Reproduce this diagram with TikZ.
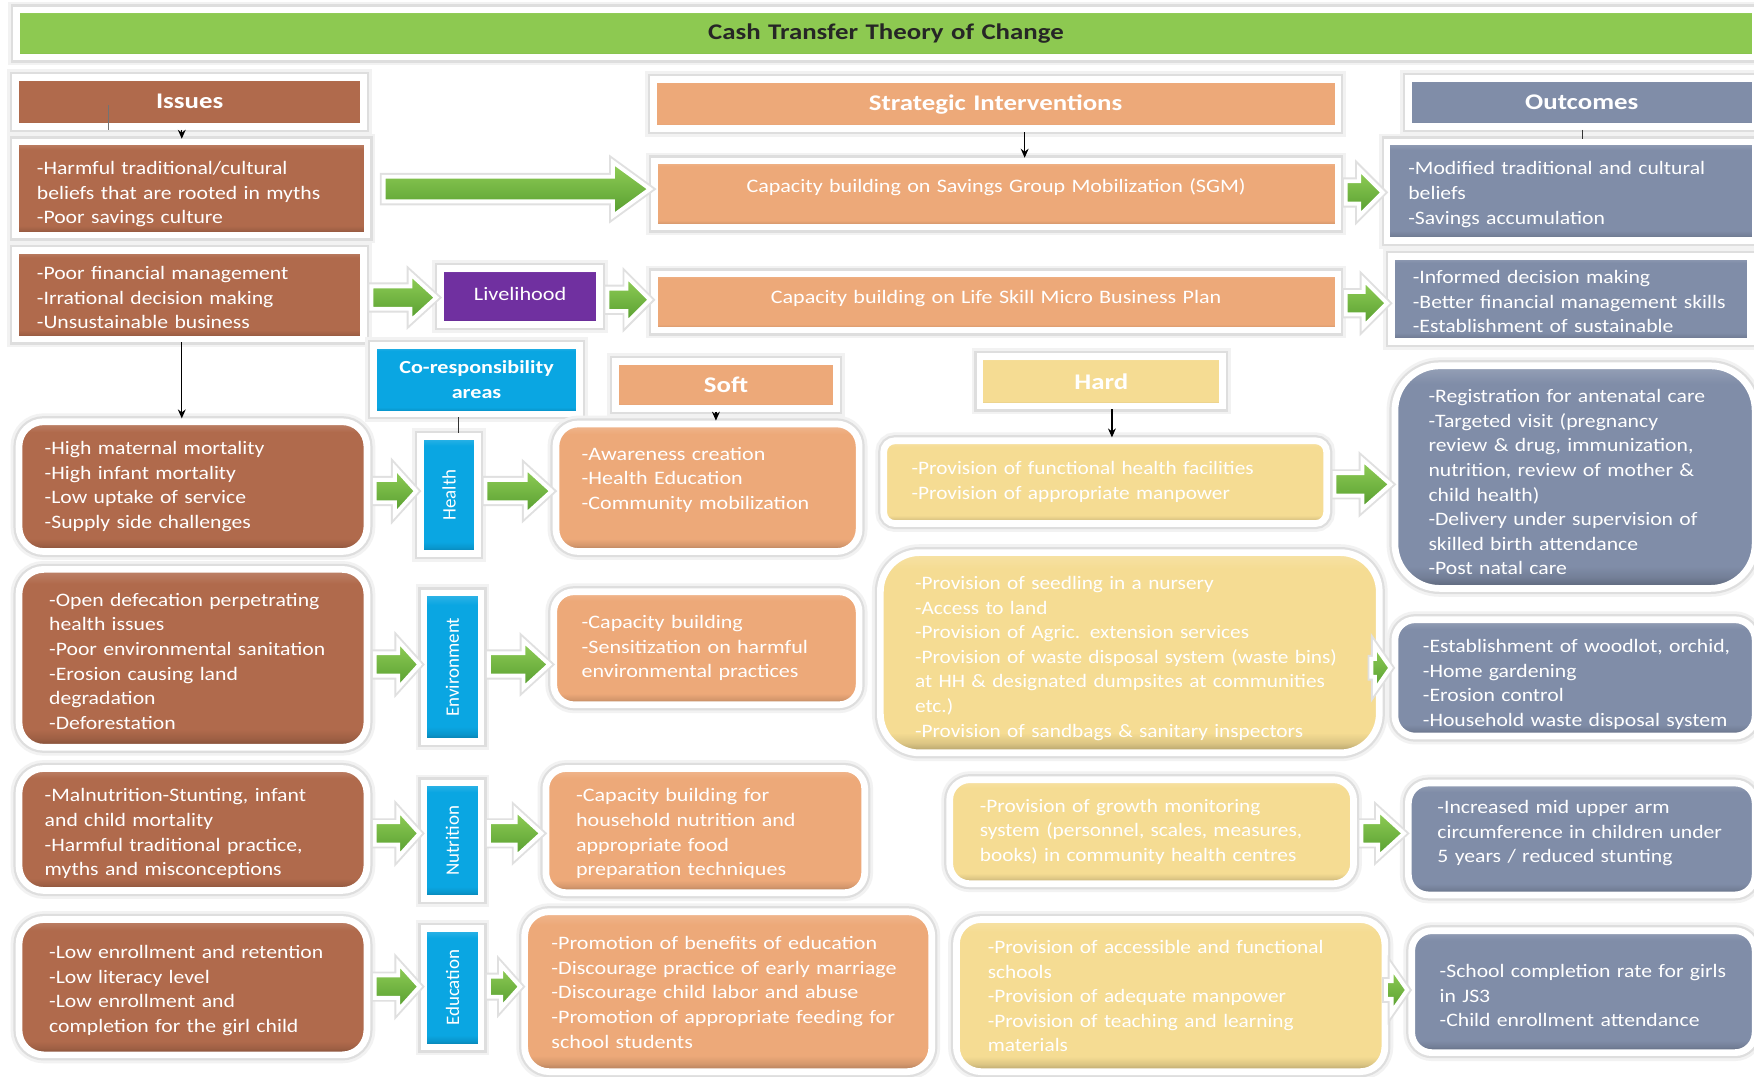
\documentclass[tikz,border=0pt]{standalone}
\usepackage{fontspec}
\setmainfont{Carlito}
\newfontfamily\fIss{Carlito}[FakeStretch=1.14]
\newfontfamily\fSoft{Carlito}[FakeStretch=1.16]
\newfontfamily\fHard{Carlito}[FakeStretch=1.12]
\newfontfamily\fOut{Carlito}[FakeStretch=1.14]
\newfontfamily\fHead{Carlito}[FakeStretch=1.2]
\newfontfamily\fLiv{Carlito}[FakeStretch=1.17]
\usetikzlibrary{calc,arrows.meta}

\definecolor{gbar}{HTML}{8DC951}
\definecolor{brn}{HTML}{B06A4C}
\definecolor{org}{HTML}{EDA979}
\definecolor{slt}{HTML}{808DA8}
\definecolor{ylw}{HTML}{F5DC93}
\definecolor{pur}{HTML}{7030A0}
\definecolor{cyn}{HTML}{0AA6E2}
\definecolor{garL}{HTML}{92CF58}
\definecolor{garD}{HTML}{559C2E}

% flat fill with a light top rim and a dark bevel at the bottom
\newcommand\mkbevel[2]{%
  \pgfdeclareverticalshading{bevel#1}{100bp}{%
    color(0bp)=(#2!70!black); color(25bp)=(#2!70!black);
    color(27.5bp)=(#2!90!black); color(30bp)=(#2); color(71bp)=(#2);
    color(75bp)=(#2!82!white); color(100bp)=(#2!82!white)}}
\mkbevel{gbar}{gbar}
\mkbevel{brn}{brn}
\mkbevel{org}{org}
\mkbevel{slt}{slt}
\mkbevel{ylw}{ylw}
\mkbevel{pur}{pur}
\mkbevel{cyn}{cyn}

% a block of lines that never re-wraps
\newcommand\lines[1]{\begin{tabular}{@{}l@{}}#1\end{tabular}}
% move a block up or down without changing its size
\newcommand\nudge[2]{\raisebox{#1}[\height][\depth]{#2}}

% box from its corner coordinates: [text padding]{name}{style}{x1}{y1}{x2}{y2}{text}
\newcommand\bx[8][16]{%
  \pgfmathsetmacro\bxX{(#4+#6)/2}%
  \pgfmathsetmacro\bxY{(#5+#7)/2}%
  \pgfmathsetmacro\bxW{#6-#4+6}%
  \pgfmathsetmacro\bxH{#7-#5+6}%
  \pgfmathsetmacro\bxT{#6-#4-2*#1}%
  \pgfmathsetmacro\bxS{#1+3}%
  \node[#3, minimum width=\bxW pt, minimum height=\bxH pt, text width=\bxT pt,
        inner xsep=\bxS pt, inner ysep=0pt] (#2) at (\bxX,\bxY) {#8};%
}

% green block arrow between two nodes:
% [start offset]{from}{to}{y}{head length}{half head}{half shaft}
\newcommand\garr[7][4]{%
  \path[garrow] let \p1=(#2.east), \p2=(#3.west), \p3=(0,#4) in
    (\x1+#1pt,\y3+#7pt) -- (\x2-#5pt,\y3+#7pt) -- (\x2-#5pt,\y3+#6pt) --
    (\x2-1pt,\y3) -- (\x2-#5pt,\y3-#6pt) -- (\x2-#5pt,\y3-#7pt) --
    (\x1+#1pt,\y3-#7pt) -- cycle;%
}

\tikzset{
  card/.style={rectangle, draw=white, line width=6pt,
    preaction={draw=black!5, line width=15pt},
    preaction={draw=black!13, line width=10pt}},
  paint/.style={shading=bevel#1},
  body/.style={card, text=white, align=left},
  iss/.style={body, paint=brn, font=\fIss\fontsize{17}{22}\selectfont},
  soft/.style={body, paint=org, font=\fSoft\fontsize{17}{22}\selectfont},
  hard/.style={body, paint=ylw, font=\fHard\fontsize{17}{22}\selectfont},
  outc/.style={body, paint=slt, font=\fOut\fontsize{17}{22}\selectfont},
  hdr/.style={card, paint=#1, text=white, align=center,
    font=\fHead\bfseries\fontsize{20}{24}\selectfont},
  titlebar/.style={card, paint=gbar, text=black!85, align=center,
    font=\fHead\bfseries\fontsize{20}{24}\selectfont},
  wide/.style={card, paint=org, text=white, align=center,
    font=\fSoft\fontsize{17}{22}\selectfont},
  area/.style={card, paint=cyn, text=white, align=center,
    font=\fHead\bfseries\fontsize{16.5}{22}\selectfont},
  vbox/.style={card, paint=cyn, text=white, align=center,
    font=\fontsize{17}{20}\selectfont},
  liv/.style={card, paint=pur, text=white, align=center,
    font=\fLiv\fontsize{17}{22}\selectfont},
  garrow/.style={draw=white, line width=3.5pt, line join=miter,
    top color=garL, bottom color=garD,
    preaction={draw=black!12, line width=7pt}},
  blk/.style={-{Stealth[length=8pt,width=7pt]}, line width=1.1pt, black},
  tick/.style={line width=1.1pt, black!80},
}

\begin{document}
\begin{tikzpicture}[x=1pt,y=-1pt]
\useasboundingbox (0,0) rectangle (1568,962);
\fill[white] (0,0) rectangle (1568,962);

% title and column headers
\bx[10]{title}{titlebar}{18}{12}{1566}{48}{Cash Transfer Theory of Change}
\bx[10]{issues}{hdr=brn}{17}{72}{322}{110}{Issues}
\bx[10]{strat}{hdr=org}{587}{74}{1193}{112}{Strategic Interventions}
\bx[10]{outh}{hdr=slt}{1262}{73}{1566}{110}{Outcomes}

% savings row
\bx[16]{i1}{iss}{17}{130}{325}{207}{\nudge{-5pt}{\lines{-Harmful traditional/cultural\\beliefs that are rooted in myths\\-Poor savings culture}}}
\bx[10]{sgm}{wide}{588}{147}{1193}{200}{\nudge{6pt}{Capacity building on Savings Group Mobilization (SGM)}}
\bx[16]{o1}{outc}{1243}{130}{1566}{212}{\nudge{-3pt}{\lines{-Modified traditional and cultural\\beliefs\\-Savings accumulation}}}

% livelihood row
\bx[16]{i2}{iss}{17}{227}{322}{300}{\nudge{-4pt}{\lines{-Poor financial management\\-Irrational decision making\\-Unsustainable business}}}
\bx[6]{livh}{liv}{397}{243}{533}{287}{\nudge{2pt}{Livelihood}}
\bx[10]{lsk}{wide}{588}{248}{1193}{292}{\nudge{3pt}{Capacity building on Life Skill Micro Business Plan}}
\bx[16]{o2}{outc}{1247}{232}{1562}{302}{\nudge{-4pt}{\lines{-Informed decision making\\-Better financial management skills\\-Establishment of sustainable}}}

% second level headers
\bx[8]{cra}{area}{337}{312}{515}{367}{Co-responsibility\\areas}
\bx[10]{softh}{hdr=org}{553}{326}{745}{362}{Soft}
\bx[10]{hardh}{hdr=ylw}{879}{322}{1090}{360}{Hard}

% health row
\bx[20]{i3}{iss, rounded corners=22pt}{20}{380}{325}{490}{\lines{-High maternal mortality\\-High infant mortality\\-Low uptake of service\\-Supply side challenges}}
\bx[5]{hlt}{vbox}{379}{393}{424}{492}{\rotatebox{90}{Health}}
\bx[20]{s1}{soft, rounded corners=20pt}{500}{382}{765}{490}{\nudge{7pt}{\lines{-Awareness creation\\-Health Education\\-Community mobilization}}}
\bx[22]{hd1}{hard, rounded corners=10pt}{793}{397}{1183}{465}{\lines{-Provision of functional health facilities\\-Provision of appropriate manpower}}
\bx[27]{o3}{outc, rounded corners=40pt}{1250}{330}{1566}{523}{\nudge{-6pt}{\lines{-Registration for antenatal care\\-Targeted visit (pregnancy\\review \& drug, immunization,\\nutrition, review of mother \&\\child health)\\-Delivery under supervision of\\skilled birth attendance\\-Post natal care}}}

% environment row
\bx[24]{i4}{iss, rounded corners=22pt}{20}{512}{325}{665}{\nudge{-4pt}{\lines{-Open defecation perpetrating\\health issues\\-Poor environmental sanitation\\-Erosion causing land\\degradation\\-Deforestation}}}
\bx[5]{env}{vbox}{382}{533}{427}{660}{\rotatebox{90}{Environment}}
\bx[22]{s2}{soft, rounded corners=18pt}{498}{532}{765}{627}{\lines{-Capacity building\\-Sensitization on harmful\\environmental practices}}
\bx[28]{hd2}{hard, rounded corners=35pt}{790}{497}{1230}{670}{\nudge{-5pt}{\lines{-Provision of seedling in a nursery\\-Access to land\\-Provision of Agric. extension services\\-Provision of waste  disposal system (waste bins)\\at HH \& designated dumpsites at communities\\etc.)\\-Provision of sandbags \& sanitary  inspectors}}}
\bx[22]{o4}{outc, rounded corners=18pt}{1250}{557}{1566}{655}{\nudge{-6pt}{\lines{-Establishment of woodlot, orchid,\\-Home gardening\\-Erosion control\\-Household waste disposal system}}}

% nutrition row
\bx[20]{i5}{iss, rounded corners=22pt}{20}{690}{325}{793}{\nudge{-4pt}{\lines{-Malnutrition-Stunting, infant\\and child mortality\\-Harmful traditional practice,\\myths and misconceptions}}}
\bx[5]{nut}{vbox}{382}{703}{427}{800}{\rotatebox{90}{Nutrition}}
\bx[24]{s3}{soft, rounded corners=18pt}{491}{690}{770}{795}{\nudge{-3pt}{\lines{-Capacity building for\\household nutrition and\\appropriate food\\preparation techniques}}}
\bx[24]{hd3}{hard, rounded corners=18pt}{852}{700}{1207}{787}{\lines{-Provision of growth monitoring\\system (personnel, scales, measures,\\books) in community health centres}}
\bx[23]{o5}{outc, rounded corners=18pt}{1262}{703}{1566}{797}{\nudge{5pt}{\lines{-Increased mid upper arm\\circumference in children under\\5 years / reduced stunting}}}

% education row
\bx[24]{i6}{iss, rounded corners=22pt}{20}{825}{325}{940}{\nudge{-3pt}{\lines{-Low enrollment and retention\\-Low literacy level\\-Low enrollment and\\completion for the girl child}}}
\bx[5]{edu}{vbox}{382}{833}{427}{933}{\rotatebox{90}{Education}}
\bx[21]{s4}{soft, rounded corners=22pt}{472}{818}{830}{955}{\nudge{-2pt}{\lines{-Promotion of benefits of education\\-Discourage practice of early marriage\\-Discourage child labor and abuse\\-Promotion of appropriate feeding for\\school students}}}
\bx[25]{hd4}{hard, rounded corners=22pt}{858}{825}{1235}{955}{\nudge{-2pt}{\lines{-Provision of accessible and functional\\schools\\-Provision of adequate manpower\\-Provision of teaching and learning\\materials}}}
\bx[22]{o6}{outc, rounded corners=18pt}{1265}{835}{1566}{938}{\nudge{-5pt}{\lines{-School completion rate for girls\\in JS3\\-Child enrollment attendance}}}

% green block arrows
\garr[12]{i1}{sgm}{169}{34}{24}{11}
\garr{sgm}{o1}{172}{22}{21}{10}
\garr{i2}{livh}{266}{24}{21}{10}
\garr{livh}{lsk}{268}{22}{21}{10}
\garr{lsk}{o2}{271}{22}{21}{10}
\garr{i3}{hlt}{439}{20}{21}{10}
\garr{hlt}{s1}{439}{24}{21}{10}
\garr{hd1}{o3}{433}{26}{22}{10}
\garr{i4}{env}{594}{20}{21}{10}
\garr{env}{s2}{594}{24}{21}{10}
\garr[-10]{hd2}{o4}{597}{15}{20}{8}
\garr{i5}{nut}{745}{20}{21}{10}
\garr{nut}{s3}{745}{24}{21}{10}
\garr{hd3}{o5}{745}{24}{21}{10}
\garr{i6}{edu}{882}{20}{21}{10}
\garr{edu}{s4}{882}{18}{19}{9}
\garr[-2]{hd4}{o6}{885}{15}{20}{8}

% thin black connectors
\draw[blk] ([xshift=-7pt]issues.south) -- ([xshift=-7pt]issues.south |- i1.north);
\draw[blk] ([xshift=26pt]strat.south) -- ([xshift=26pt]strat.south |- sgm.north);
\draw[tick] ([xshift=1pt]outh.south) -- ([xshift=1pt]outh.south |- o1.north);
\draw[blk] ([xshift=-7pt]i2.south) -- ([xshift=-7pt]i2.south |- i3.north);
\draw[tick] ([xshift=-16pt]cra.south) -- ([xshift=-16pt]cra.south |- hlt.north);
\draw[blk] ([xshift=-9pt]softh.south) -- ([xshift=-9pt]softh.south |- s1.north);
\draw[blk] ([xshift=9.5pt]hardh.south) -- ([xshift=9.5pt]hardh.south |- hd1.north);
\draw[line width=0.8pt, black!55] ([xshift=-73pt,yshift=-3pt]issues.center) -- ([xshift=-73pt]issues.center |- issues.south);
\end{tikzpicture}
\end{document}
